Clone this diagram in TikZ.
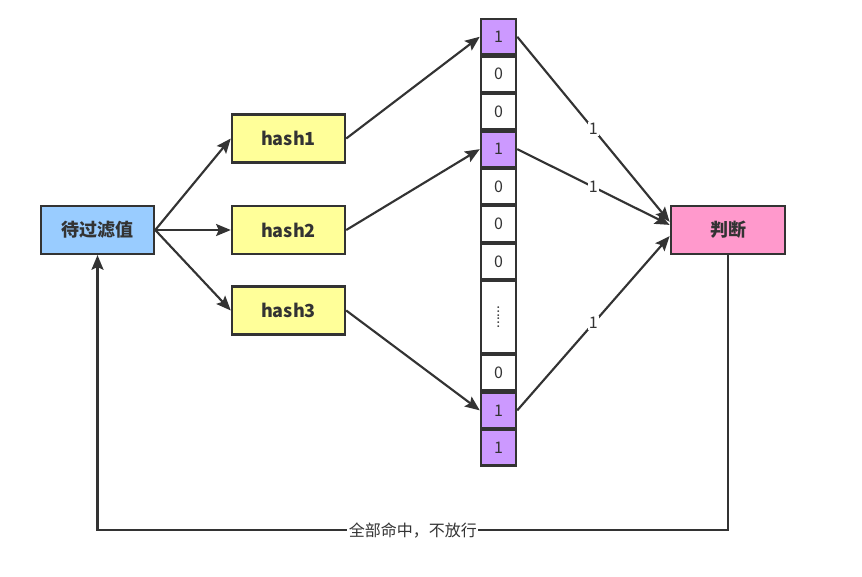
\documentclass[tikz,border=0pt]{standalone}
\usepackage{xcolor}
\usepackage{fontspec}
\setmainfont{Noto Sans CJK SC}
\usepackage{tikz}
\usetikzlibrary{positioning,chains,arrows.meta}

\definecolor{edgegray}{HTML}{333333}
\definecolor{srcblue}{HTML}{99CCFF}
\definecolor{hashyellow}{HTML}{FFFF99}
\definecolor{bitpurple}{HTML}{CC99FF}
\definecolor{judgepink}{HTML}{FF99CC}

\begin{document}
\begin{tikzpicture}[x=0.75pt, y=-0.75pt,
        box/.style={rectangle, draw=edgegray, line width=1.6pt, text=edgegray,
            minimum width=85pt, minimum height=36pt, font=\bfseries\fontsize{13.5}{15}\selectfont},
        bit/.style={rectangle, draw=edgegray, line width=1.6pt, text=edgegray, fill=white,
            minimum width=26.5pt, minimum height=26.5pt, inner sep=0pt,
            font=\fontsize{12}{14}\selectfont, on chain},
        setbit/.style={bit, fill=bitpurple},
        tag/.style={fill=white, text=edgegray, inner sep=1pt, font=\fontsize{12}{14}\selectfont},
        >={Stealth[length=11pt, width=9pt, inset=2pt]},
        line width=1.6pt, draw=edgegray,
        start chain=going below, node distance=0pt]

    \useasboundingbox (0,0) rectangle (862,576);

    \node[box, fill=srcblue] (src) at (97.5,230) {待过滤值};
    \node[box, fill=hashyellow] (hash1) at (288.5,138.5) {hash1};
    \node[box, fill=hashyellow] (hash2) at (288.5,230) {hash2};
    \node[box, fill=hashyellow] (hash3) at (288.5,310.5) {hash3};
    \node[box, fill=judgepink, minimum width=86pt] (judge) at (728,230) {判断};

    \node[setbit, at={(498.5,36.75)}] (c1) {1};
    \node[bit] (c2) {0};
    \node[bit] (c3) {0};
    \node[setbit] (c4) {1};
    \node[bit] (c5) {0};
    \node[bit] (c6) {0};
    \node[bit] (c7) {0};
    \node[bit, minimum height=53.8pt] (c8) {\rotatebox{90}{\fontsize{10}{10}\selectfont ......}};
    \node[bit] (c9) {0};
    \node[setbit] (c10) {1};
    \node[setbit] (c11) {1};

    \draw[->, edgegray] (src.east) -- (hash1.west);
    \draw[->, edgegray] (src.east) -- (hash2.west);
    \draw[->, edgegray] (src.east) -- (hash3.west);

    \draw[->, edgegray] (hash1.east) -- (c1.west);
    \draw[->, edgegray] (hash2.east) -- (c4.west);
    \draw[->, edgegray] (hash3.east) -- (c10.west);

    \draw[->, edgegray] (c1.east) -- node[tag] {1} (judge.172);
    \draw[->, edgegray] (c4.east) -- node[tag] {1} (judge.175);
    \draw[->, edgegray] (c10.east) -- node[tag] {1} (judge.186);

    \draw[->, edgegray] (judge.south) -- ++(0,275) -| node[tag, pos=0.25] {全部命中，不放行} (src.south);

\end{tikzpicture}
\end{document}
